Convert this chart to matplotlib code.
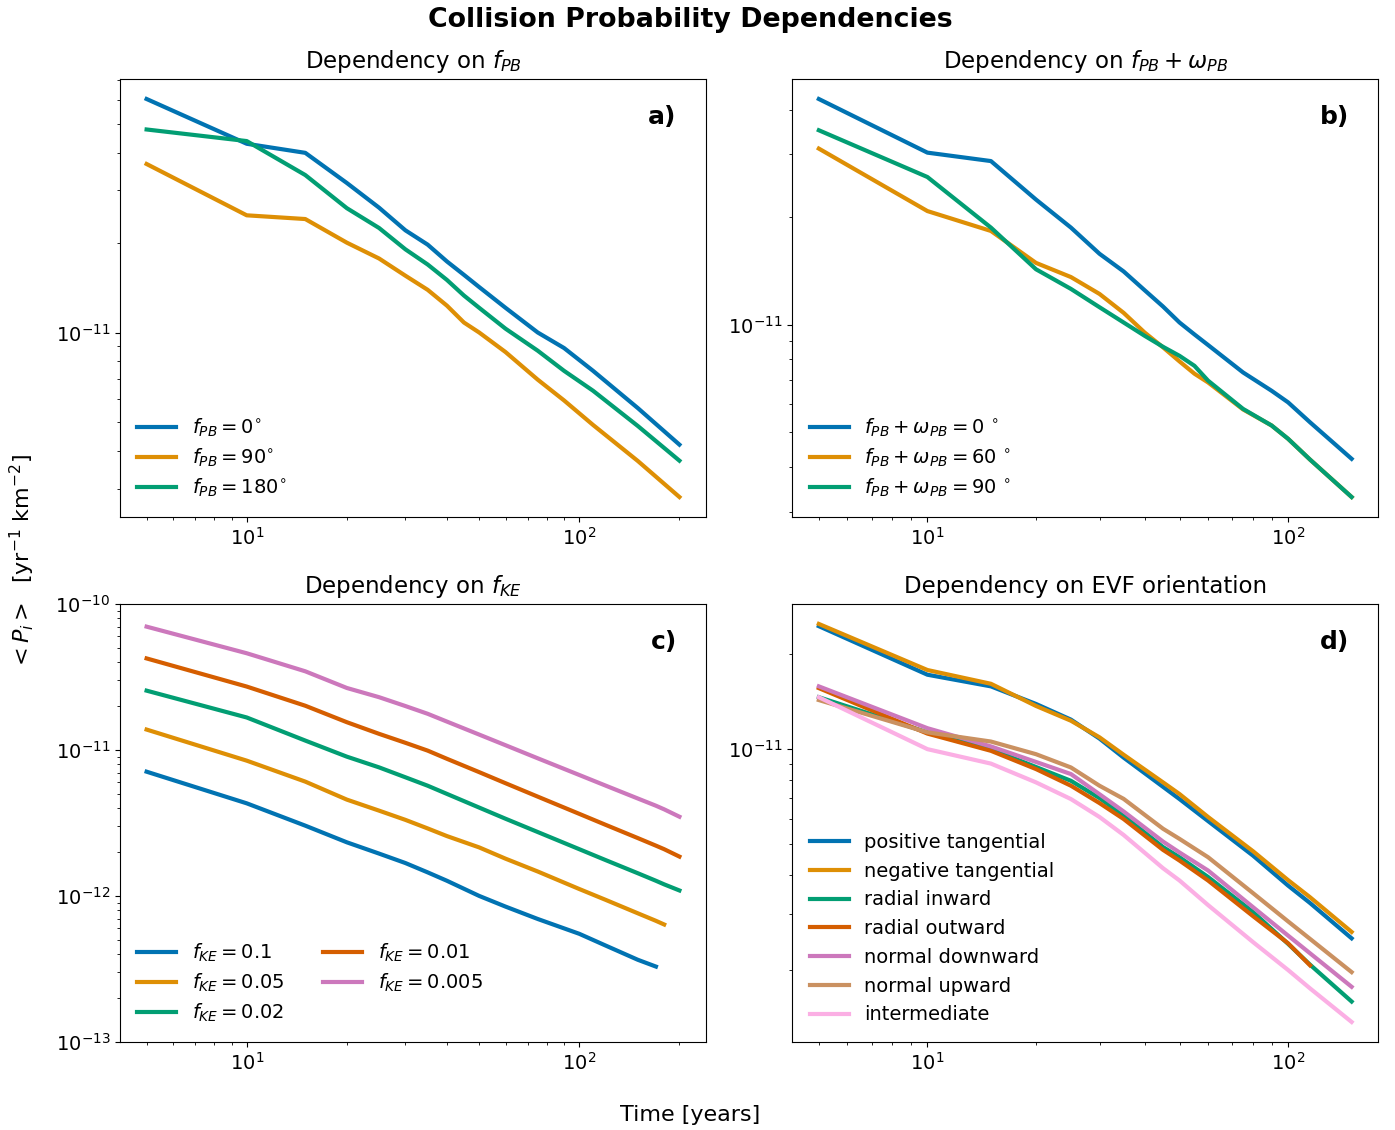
import numpy as np
import matplotlib.pyplot as plt

# colorblind palette (seaborn "colorblind")
colors = ['#0173b2', '#de8f05', '#029e73', '#d55e00', '#cc78bc', '#ca9161', '#fbafe4']

# a) dependency on f_PB
t_a = [5, 10, 15, 20, 25, 30, 35, 40, 45, 50, 60, 75, 90, 110, 150, 200]
p_fpb_0 = [6.06e-11, 4.29e-11, 4.00e-11, 3.17e-11, 2.62e-11, 2.20e-11, 1.97e-11, 1.73e-11,
           1.56e-11, 1.42e-11, 1.21e-11, 1.00e-11, 8.87e-12, 7.44e-12, 5.58e-12, 4.21e-12]
p_fpb_90 = [3.67e-11, 2.47e-11, 2.40e-11, 2.00e-11, 1.77e-11, 1.55e-11, 1.39e-11, 1.23e-11,
            1.08e-11, 1.00e-11, 8.60e-12, 6.95e-12, 5.92e-12, 4.90e-12, 3.71e-12, 2.81e-12]
p_fpb_180 = [4.79e-11, 4.38e-11, 3.37e-11, 2.61e-11, 2.24e-11, 1.90e-11, 1.69e-11, 1.50e-11,
             1.33e-11, 1.21e-11, 1.03e-11, 8.69e-12, 7.44e-12, 6.38e-12, 4.86e-12, 3.72e-12]

# b) dependency on f_PB + omega_PB
t_b = [5, 10, 15, 20, 25, 30, 35, 40, 45, 50, 55, 60, 75, 90, 100, 115, 150]
p_fw_0 = [4.28e-11, 3.03e-11, 2.87e-11, 2.24e-11, 1.87e-11, 1.58e-11, 1.41e-11, 1.25e-11,
          1.125e-11, 1.015e-11, 9.40e-12, 8.78e-12, 7.36e-12, 6.54e-12, 6.07e-12, 5.34e-12, 4.22e-12]
p_fw_60 = [3.11e-11, 2.08e-11, 1.83e-11, 1.49e-11, 1.36e-11, 1.22e-11, 1.08e-11, 9.52e-12,
           8.65e-12, 7.90e-12, 7.30e-12, 6.90e-12, 5.80e-12, 5.23e-12, 4.80e-12, 4.20e-12, 3.30e-12]
p_fw_90 = [3.50e-11, 2.59e-11, 1.87e-11, 1.43e-11, 1.26e-11, 1.12e-11, 1.015e-11, 9.32e-12,
           8.68e-12, 8.19e-12, 7.68e-12, 6.98e-12, 5.82e-12, 5.23e-12, 4.80e-12, 4.20e-12, 3.30e-12]

# c) dependency on f_KE
t_c = [5, 10, 15, 20, 25, 30, 35, 40, 50, 60, 75, 100, 120, 150, 170, 180, 200]
nan = np.nan
p_fke_01 = [7.10e-12, 4.31e-12, 3.03e-12, 2.33e-12, 1.95e-12, 1.68e-12, 1.45e-12, 1.27e-12, 1.00e-12,
            8.45e-13, 6.95e-13, 5.50e-13, 4.57e-13, 3.65e-13, 3.28e-13, nan, nan]
p_fke_005 = [1.38e-11, 8.45e-12, 6.07e-12, 4.57e-12, 3.84e-12, 3.32e-12, 2.90e-12, 2.57e-12, 2.15e-12,
             1.80e-12, 1.47e-12, 1.115e-12, 9.40e-13, 7.60e-13, 6.75e-13, 6.37e-13, nan]
p_fke_002 = [2.55e-11, 1.67e-11, 1.16e-11, 9.00e-12, 7.60e-12, 6.50e-12, 5.69e-12, 5.00e-12, 4.03e-12,
             3.38e-12, 2.74e-12, 2.09e-12, 1.76e-12, 1.43e-12, 1.27e-12, 1.20e-12, 1.09e-12]
p_fke_001 = [4.24e-11, 2.72e-11, 2.01e-11, 1.55e-11, 1.29e-11, 1.12e-11, 9.90e-12, 8.70e-12, 7.05e-12,
             5.92e-12, 4.79e-12, 3.65e-12, 3.07e-12, 2.49e-12, 2.21e-12, 2.09e-12, 1.86e-12]
p_fke_0005 = [7.00e-11, 4.60e-11, 3.46e-11, 2.66e-11, 2.30e-11, 2.00e-11, 1.77e-11, 1.565e-11, 1.275e-11,
              1.078e-11, 8.77e-12, 6.74e-12, 5.70e-12, 4.65e-12, 4.15e-12, 3.92e-12, 3.49e-12]

# d) dependency on EVF orientation
t_d = [5, 10, 15, 20, 25, 30, 35, 45, 50, 60, 80, 100, 115, 150]
p_pos_tan = [2.45e-11, 1.72e-11, 1.58e-11, 1.39e-11, 1.24e-11, 1.08e-11, 9.40e-12, 7.60e-12, 6.95e-12,
             5.92e-12, 4.60e-12, 3.70e-12, 3.26e-12, 2.52e-12]
p_neg_tan = [2.49e-11, 1.78e-11, 1.61e-11, 1.37e-11, 1.23e-11, 1.09e-11, 9.60e-12, 7.85e-12, 7.21e-12,
             6.10e-12, 4.75e-12, 3.85e-12, 3.40e-12, 2.64e-12]
p_rad_in = [1.46e-11, 1.13e-11, 1.00e-11, 8.78e-12, 7.94e-12, 7.00e-12, 6.16e-12, 4.90e-12, 4.55e-12,
            3.94e-12, 3.05e-12, 2.42e-12, 2.08e-12, 1.59e-12]
p_rad_out = [1.56e-11, 1.12e-11, 9.88e-12, 8.65e-12, 7.66e-12, 6.75e-12, 6.01e-12, 4.80e-12, 4.44e-12,
             3.84e-12, 2.96e-12, 2.43e-12, 2.07e-12, nan]
p_norm_down = [1.58e-11, 1.165e-11, 1.02e-11, 9.11e-12, 8.34e-12, 7.20e-12, 6.35e-12, 5.10e-12, 4.71e-12,
               4.13e-12, 3.16e-12, 2.57e-12, 2.26e-12, 1.77e-12]
p_norm_up = [1.43e-11, 1.13e-11, 1.057e-11, 9.64e-12, 8.75e-12, 7.66e-12, 6.96e-12, 5.60e-12, 5.20e-12,
             4.55e-12, 3.50e-12, 2.85e-12, 2.51e-12, 1.97e-12]
p_interm = [1.46e-11, 1.00e-11, 9.00e-12, 7.85e-12, 6.95e-12, 6.10e-12, 5.35e-12, 4.20e-12, 3.84e-12,
            3.21e-12, 2.45e-12, 2.00e-12, 1.75e-12, 1.37e-12]

LW = 3
TITLE_FS = 16.5

fig, axes = plt.subplots(2, 2, figsize=(13.95, 11.3), dpi=100)
fig.subplots_adjust(left=0.086, right=0.988, top=0.930, bottom=0.078, wspace=0.147, hspace=0.199)
ax_a, ax_b, ax_c, ax_d = axes.flat

# panel a
ax_a.plot(t_a, p_fpb_0, color=colors[0], lw=LW, label=r'$f_{PB} = 0^{\circ}$')
ax_a.plot(t_a, p_fpb_90, color=colors[1], lw=LW, label=r'$f_{PB} = 90^{\circ}$')
ax_a.plot(t_a, p_fpb_180, color=colors[2], lw=LW, label=r'$f_{PB} = 180^{\circ}$')
ax_a.set_title(r'Dependency on $f_{PB}$', fontsize=TITLE_FS, pad=8)

# panel b
ax_b.plot(t_b, p_fw_0, color=colors[0], lw=LW, label=r'$f_{PB} + \omega_{PB} = 0\ ^{\circ}$')
ax_b.plot(t_b, p_fw_60, color=colors[1], lw=LW, label=r'$f_{PB} + \omega_{PB} = 60\ ^{\circ}$')
ax_b.plot(t_b, p_fw_90, color=colors[2], lw=LW, label=r'$f_{PB} + \omega_{PB} = 90\ ^{\circ}$')
ax_b.set_title(r'Dependency on $f_{PB} + \omega_{PB}$', fontsize=TITLE_FS, pad=8)

# panel c
fke_series = [(p_fke_01, '0.1'), (p_fke_005, '0.05'), (p_fke_002, '0.02'),
              (p_fke_001, '0.01'), (p_fke_0005, '0.005')]
for i, (vals, lab) in enumerate(fke_series):
    ax_c.plot(t_c, vals, color=colors[i], lw=LW, label=r'$f_{KE} = %s$' % lab)
ax_c.set_title(r'Dependency on $f_{KE}$', fontsize=TITLE_FS, pad=8)
ax_c.set_ylim(1e-13, 1e-10)

# panel d
evf_series = [(p_pos_tan, 'positive tangential'), (p_neg_tan, 'negative tangential'),
              (p_rad_in, 'radial inward'), (p_rad_out, 'radial outward'),
              (p_norm_down, 'normal downward'), (p_norm_up, 'normal upward'),
              (p_interm, 'intermediate')]
for i, (vals, lab) in enumerate(evf_series):
    ax_d.plot(t_d, vals, color=colors[i], lw=LW, label=lab)
ax_d.set_title('Dependency on EVF orientation', fontsize=TITLE_FS, pad=8)

for ax, letter in zip(axes.flat, ['a)', 'b)', 'c)', 'd)']):
    ax.set_xscale('log')
    ax.set_yscale('log')
    ax.tick_params(labelsize=14)
    ax.text(0.95, 0.94, letter, transform=ax.transAxes, ha='right', va='top',
            fontsize=18, fontweight='bold')

ax_a.legend(loc='lower left', frameon=False, fontsize=14, labelspacing=0.4)
ax_b.legend(loc='lower left', frameon=False, fontsize=14, labelspacing=0.4)
ax_c.legend(loc='lower left', frameon=False, fontsize=14, ncol=2, labelspacing=0.4)
ax_d.legend(loc='lower left', frameon=False, fontsize=14)

fig.suptitle('Collision Probability Dependencies', fontsize=19.3, fontweight='bold',
             x=0.495, y=0.994, va='top')
fig.text(0.495, 0.013, 'Time [years]', ha='center', va='center', fontsize=16)
fig.text(0.016, 0.503, r'$<P_i>$  [yr$^{-1}$ km$^{-2}$]', ha='center', va='center',
         rotation=90, fontsize=16)

plt.savefig('out.png', dpi=100)
